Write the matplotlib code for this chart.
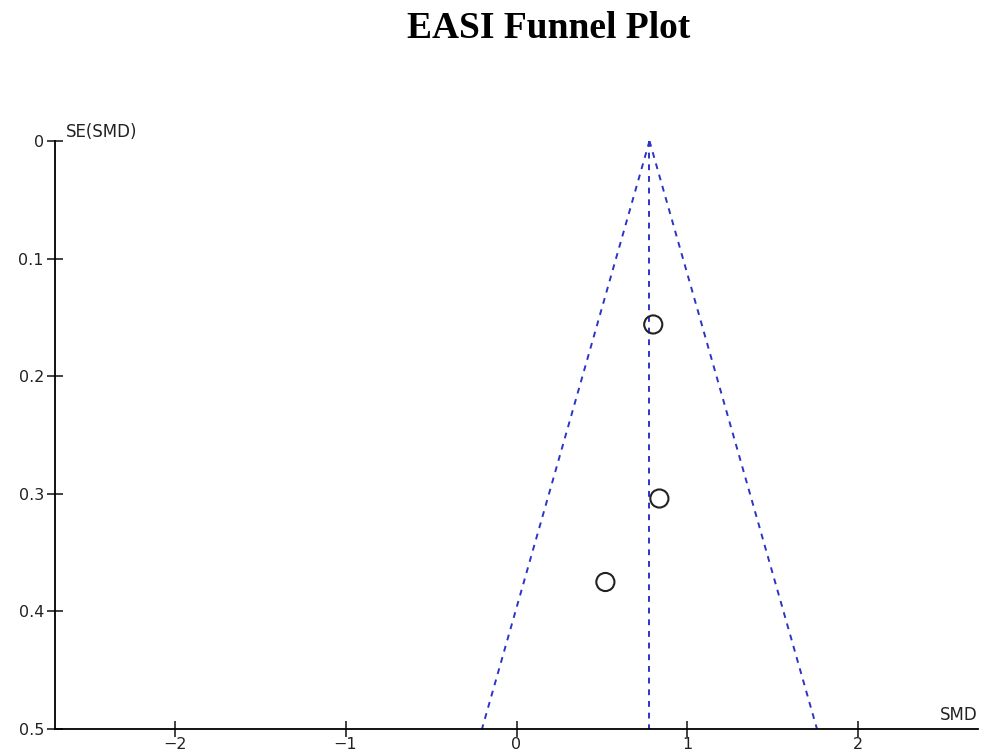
import matplotlib
matplotlib.use("Agg")
import matplotlib.pyplot as plt
import numpy as np

# study estimates
smd = [0.80, 0.836, 0.52]
se_smd = [0.156, 0.304, 0.375]
pooled_smd = 0.778
se_max = 0.5

x_ticks = [-2, -1, 0, 1, 2]
y_ticks = [0, 0.1, 0.2, 0.3, 0.4, 0.5]
y_tick_labels = ["0", "0.1", "0.2", "0.3", "0.4", "0.5"]

plt.rcParams["font.family"] = ["DejaVu Sans"]

fig = plt.figure(figsize=(9.83, 7.56), dpi=100)
ax = fig.add_axes([55 / 983, 1 - 729 / 756, (978 - 55) / 983, (729 - 141) / 756])

# funnel (pseudo 95% confidence limits) and pooled estimate
se_line = np.array([0, se_max])
dash = (0, (3, 3))
ax.plot(pooled_smd - 1.96 * se_line, se_line, color="#2a35c8", linestyle=dash, lw=1.4)
ax.plot(pooled_smd + 1.96 * se_line, se_line, color="#2a35c8", linestyle=dash, lw=1.4)
ax.plot([pooled_smd, pooled_smd], [0, se_max], color="#2a35c8", linestyle=dash, lw=1.4)

ax.scatter(smd, se_smd, s=170, facecolors="none", edgecolors="#222222", linewidths=1.5, zorder=5)

ax.set_xlim(-2.7, 2.7)
ax.set_ylim(se_max, 0)
ax.set_xticks(x_ticks)
ax.set_xticklabels([str(t).replace("-", "\u2212") for t in x_ticks])
ax.set_yticks(y_ticks)
ax.set_yticklabels(y_tick_labels)

for side in ["top", "right"]:
    ax.spines[side].set_visible(False)
ax.spines["left"].set_linewidth(1.3)
ax.spines["bottom"].set_linewidth(1.3)
ax.tick_params(direction="inout", length=12, width=1.2, labelsize=11.5, colors="#222222")
ax.tick_params(axis="x", pad=0)
ax.tick_params(axis="y", pad=2)

ax.text(0.012, 1.0, "SE(SMD)", transform=ax.transAxes, fontsize=12, ha="left", va="bottom", color="#222222")
ax.text(1.0, 0.008, "SMD", transform=ax.transAxes, fontsize=12, ha="right", va="bottom", color="#222222")

fig.text(549 / 983, 1 - 29 / 756, "EASI Funnel Plot", family="Liberation Serif", weight="bold",
         fontsize=27, ha="center", va="center")

fig.savefig("out.png", dpi=100)
